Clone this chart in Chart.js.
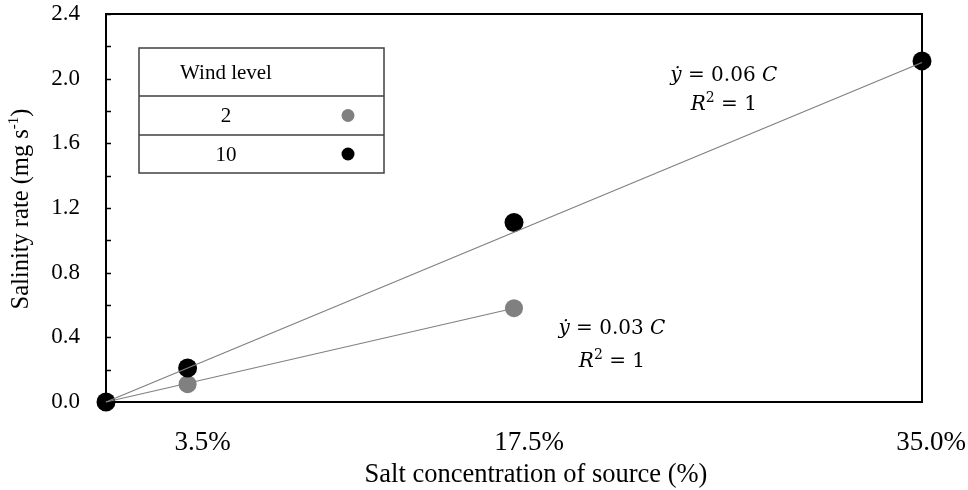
<!DOCTYPE html>
<html>
<head>
<meta charset="utf-8">
<script src="https://cdn.jsdelivr.net/npm/chart.js@4.4.1/dist/chart.umd.min.js"></script>
<style>
  html, body { margin: 0; padding: 0; background: #fff; }
  #wrap { width: 968px; height: 490px; }
</style>
</head>
<body>
<div id="wrap"><canvas id="chart" width="968" height="490"></canvas></div>
<script>
// Salt concentration of the source (%)
const concentration = [0, 3.5, 17.5, 35];
// Concentrations that carry an axis label, and their labels
const labeledConcentration = [3.5, 17.5, 35];
const concentrationLabels = ['3.5%', '17.5%', '35.0%'];

// Salinity rate (mg s-1) per wind level
const rateWind2 = [0, 0.11, 0.58];          // at 0, 3.5, 17.5 %
const rateWind10 = [0, 0.21, 1.11, 2.11];   // at 0, 3.5, 17.5, 35 %

// Linear fits through the origin (start / end of each fitted line)
const fitWind2X = [0, 17.5];
const fitWind2Y = [0, 0.58];
const fitWind10X = [0, 35];
const fitWind10Y = [0, 2.1];

// Rate axis
const rateMin = 0, rateMax = 2.4, rateLabelStep = 0.4, rateMinorStep = 0.2;

// Legend rows
const legendTitle = 'Wind level';
const legendRows = ['2', '10'];

// Fit equations
const fitEquations = [
  { slope: '0.06', r2: '1', at: [26.5, 2.02], r2At: [26.5, 1.84] },
  { slope: '0.03', r2: '1', at: [21.7, 0.45], r2At: [21.7, 0.25] }
];

const GREY = '#808080';
const BLACK = '#000000';
const SERIF = '"Liberation Serif", "Times New Roman", serif';
const MATH = '"DejaVu Serif", serif';

const pts = (xs, ys) => ys.map((v, i) => ({ x: xs[i], y: v }));

const decorations = {
  id: 'decorations',
  beforeDatasetsDraw(chart) {
    const { ctx, chartArea: a, scales: { y } } = chart;
    ctx.save();
    // inward minor ticks on the rate axis
    ctx.strokeStyle = '#000';
    ctx.lineWidth = 1.5;
    ctx.beginPath();
    for (let v = rateMin; v <= rateMax + 1e-9; v += rateMinorStep) {
      const py = Math.round(y.getPixelForValue(v)) + 0.5;
      ctx.moveTo(a.left, py);
      ctx.lineTo(a.left + 5, py);
    }
    ctx.stroke();
    // plot frame
    ctx.lineWidth = 2;
    ctx.strokeRect(a.left, a.top, a.right - a.left, a.bottom - a.top);
    ctx.restore();
  },
  afterDraw(chart) {
    const { ctx, chartArea: a, scales: { x, y } } = chart;
    ctx.save();
    ctx.fillStyle = '#000';

    // concentration labels
    ctx.font = '27px ' + SERIF;
    ctx.textAlign = 'center';
    ctx.textBaseline = 'alphabetic';
    labeledConcentration.forEach((v, i) => {
      const text = concentrationLabels[i];
      const w = ctx.measureText(text).width;
      let cx = x.getPixelForValue(v) + 15;
      cx = Math.min(cx, chart.width - 2 - w / 2);
      ctx.fillText(text, cx, a.bottom + 48);
    });

    // x axis title
    ctx.font = '26.5px ' + SERIF;
    ctx.fillText('Salt concentration of source (%)', (a.left + a.right) / 2 + 22, a.bottom + 80);

    // y axis title with superscript
    ctx.save();
    ctx.translate(22, (a.top + a.bottom) / 2 + 1);
    ctx.rotate(-Math.PI / 2);
    ctx.textBaseline = 'middle';
    ctx.textAlign = 'left';
    const mainFont = '24.5px ' + SERIF, supFont = '15px ' + SERIF;
    const part1 = 'Salinity rate (mg s', sup = '-1', part3 = ')';
    ctx.font = mainFont; const w1 = ctx.measureText(part1).width, w3 = ctx.measureText(part3).width;
    ctx.font = supFont; const w2 = ctx.measureText(sup).width;
    let tx = -(w1 + w2 + w3) / 2;
    ctx.font = mainFont; ctx.fillText(part1, tx, 0); tx += w1;
    ctx.font = supFont; ctx.fillText(sup, tx, -8); tx += w2;
    ctx.font = mainFont; ctx.fillText(part3, tx, 0);
    ctx.restore();

    // fit equations
    const drawPieces = (pieces, cx, cy) => {
      let total = 0;
      pieces.forEach(p => { ctx.font = p.font; p.w = ctx.measureText(p.t).width; total += p.w; });
      let px = cx - total / 2;
      ctx.textAlign = 'left';
      ctx.textBaseline = 'middle';
      pieces.forEach(p => { ctx.font = p.font; ctx.fillText(p.t, px, cy + (p.dy || 0)); px += p.w; });
    };
    fitEquations.forEach(eq => {
      drawPieces([
        { t: '\u1E8F', font: 'italic 20px ' + MATH },
        { t: ' = ' + eq.slope + ' ', font: '20px ' + MATH },
        { t: 'C', font: 'italic 20px ' + MATH }
      ], x.getPixelForValue(eq.at[0]), y.getPixelForValue(eq.at[1]));
      drawPieces([
        { t: 'R', font: 'italic 20px ' + MATH },
        { t: '2', font: '14px ' + MATH, dy: -6 },
        { t: ' = ' + eq.r2, font: '20px ' + MATH }
      ], x.getPixelForValue(eq.r2At[0]), y.getPixelForValue(eq.r2At[1]));
    });

    // legend table
    const L = a.left + 33, T = a.top + 34, R = a.left + 278, B = a.top + 159;
    const row1 = a.top + 82, row2 = a.top + 121;
    ctx.strokeStyle = '#404040';
    ctx.lineWidth = 1.5;
    ctx.strokeRect(L, T, R - L, B - T);
    ctx.beginPath();
    ctx.moveTo(L, row1); ctx.lineTo(R, row1);
    ctx.moveTo(L, row2); ctx.lineTo(R, row2);
    ctx.stroke();
    ctx.font = '21px ' + SERIF;
    ctx.textAlign = 'center';
    ctx.textBaseline = 'middle';
    ctx.fillText(legendTitle, L + 87, (T + row1) / 2 + 1);
    const markX = L + 209;
    const colours = [GREY, BLACK];
    [[T + 0, row1, row2], [0, row2, B]].forEach((r, i) => {
      const cy = (r[1] + r[2]) / 2;
      ctx.fillStyle = '#000';
      ctx.fillText(legendRows[i], L + 87, cy + 1);
      ctx.fillStyle = colours[i];
      ctx.beginPath();
      ctx.arc(markX, cy, 6.5, 0, Math.PI * 2);
      ctx.fill();
    });
    ctx.restore();
  }
};

new Chart(document.getElementById('chart'), {
  type: 'scatter',
  data: {
    datasets: [
      {
        label: 'Fit 10', data: pts(fitWind10X, fitWind10Y), showLine: true,
        borderColor: GREY, borderWidth: 1.2, pointRadius: 0, order: 0, clip: false
      },
      {
        label: 'Fit 2', data: pts(fitWind2X, fitWind2Y), showLine: true,
        borderColor: GREY, borderWidth: 1.2, pointRadius: 0, order: 0, clip: false
      },
      {
        label: '10', data: pts(concentration, rateWind10),
        backgroundColor: BLACK, borderColor: BLACK, borderWidth: 0, pointRadius: 9.5, order: 1, clip: false
      },
      {
        label: '2', data: pts(concentration, rateWind2),
        backgroundColor: GREY, borderColor: GREY, borderWidth: 0, pointRadius: 9, order: 2, clip: false
      }
    ]
  },
  options: {
    responsive: false,
    animation: false,
    events: [],
    layout: { autoPadding: false, padding: { left: 0, right: 46, top: 14, bottom: 0 } },
    plugins: { legend: { display: false }, tooltip: { enabled: false } },
    scales: {
      x: {
        type: 'linear', min: 0, max: 35,
        grid: { display: false, drawTicks: false },
        border: { display: false },
        ticks: { display: false },
        afterBuildTicks: s => { s.ticks = labeledConcentration.map(v => ({ value: v })); },
        afterFit: s => { s.height = 88; s.paddingLeft = 0; s.paddingRight = 0; }
      },
      y: {
        type: 'linear', min: rateMin, max: rateMax,
        grid: { display: false, drawTicks: false },
        border: { display: false },
        ticks: {
          stepSize: rateLabelStep, padding: 26, color: '#000',
          font: { family: SERIF, size: 23 },
          callback: v => Number(v).toFixed(1)
        },
        afterFit: s => { s.width = 106; s.paddingTop = 0; s.paddingBottom = 0; }
      }
    }
  },
  plugins: [decorations]
});
</script>
</body>
</html>
